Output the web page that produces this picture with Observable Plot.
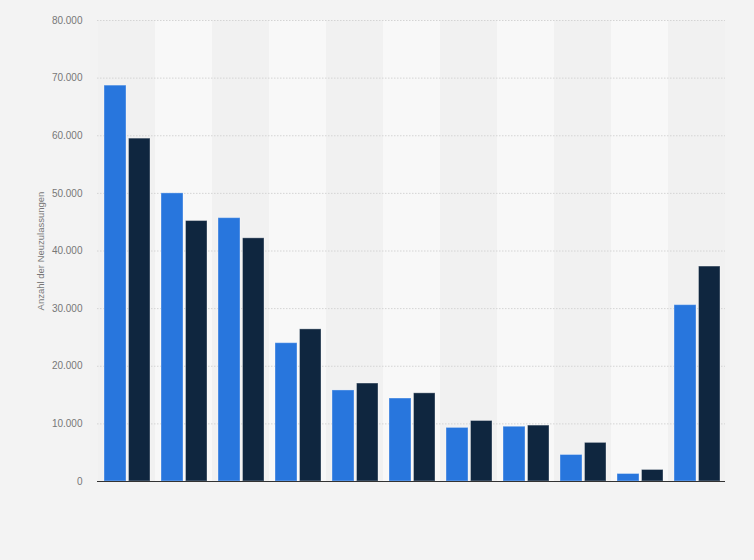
<!DOCTYPE html>
<html>
<head>
<meta charset="utf-8">
<script src="https://cdn.jsdelivr.net/npm/d3@7"></script>
<script src="https://cdn.jsdelivr.net/npm/@observablehq/plot@0.6"></script>
<style>
  html, body { margin: 0; padding: 0; background: #f3f3f3; }
  #chart { width: 754px; height: 560px; }
  svg { display: block; font-family: "Liberation Sans", Arial, sans-serif; }
</style>
</head>
<body>
<div id="chart"></div>
<script>
const categories = ["1", "2", "3", "4", "5", "6", "7", "8", "9", "10", "11"];
const seriesA = [68700, 50000, 45700, 24000, 15800, 14400, 9300, 9500, 4600, 1300, 30600];
const seriesB = [59500, 45200, 42200, 26400, 17000, 15300, 10500, 9700, 6700, 2000, 37300];
const yTicks = [0, 10000, 20000, 30000, 40000, 50000, 60000, 70000, 80000];
const yLabel = "Anzahl der Neuzulassungen";

const table = categories.map((c, i) => ({cat: c, a: seriesA[i], b: seriesB[i]}));
const fmt = d3.formatLocale({decimal: ",", thousands: ".", grouping: [3], currency: ["", " €"]}).format(",");

const chart = Plot.plot({
  width: 754,
  height: 560,
  marginLeft: 97,
  marginRight: 29,
  marginTop: 20,
  marginBottom: 79,
  style: {background: "#f3f3f3", fontFamily: "Liberation Sans, Arial, sans-serif"},
  x: {type: "band", domain: categories, padding: 0, axis: null},
  y: {domain: [0, 80000], axis: null},
  marks: [
    Plot.barY(categories.filter((d, i) => i % 2 === 0), {x: d => d, y1: 0, y2: 80000, fill: "#f1f1f1"}),
    Plot.barY(categories.filter((d, i) => i % 2 === 1), {x: d => d, y1: 0, y2: 80000, fill: "#f8f8f8"}),
    Plot.ruleY(yTicks.filter(d => d > 0), {y: d => d, stroke: "#d4d4d4", strokeDasharray: "1.5,1.5"}),
    Plot.barY(table, {x: "cat", y: "a", fill: "#2876dd", insetLeft: 6, insetRight: 29, stroke: "#ffffff", strokeOpacity: 0.35}),
    Plot.barY(table, {x: "cat", y: "b", fill: "#0f263f", insetLeft: 30.5, insetRight: 5, stroke: "#ffffff", strokeOpacity: 0.35}),
    Plot.ruleY([0], {y: d => d, stroke: "#333333", strokeWidth: 1.2}),
    Plot.axisY(yTicks, {tickSize: 0, tickPadding: 15, tickFormat: fmt, fontSize: 10, fill: "#777777", label: null}),
    Plot.text([yLabel], {frameAnchor: "left", dx: -57, rotate: -90, textAnchor: "middle", fontSize: 9.5, fill: "#777777"})
  ]
});
document.getElementById("chart").appendChild(chart);
</script>
</body>
</html>
